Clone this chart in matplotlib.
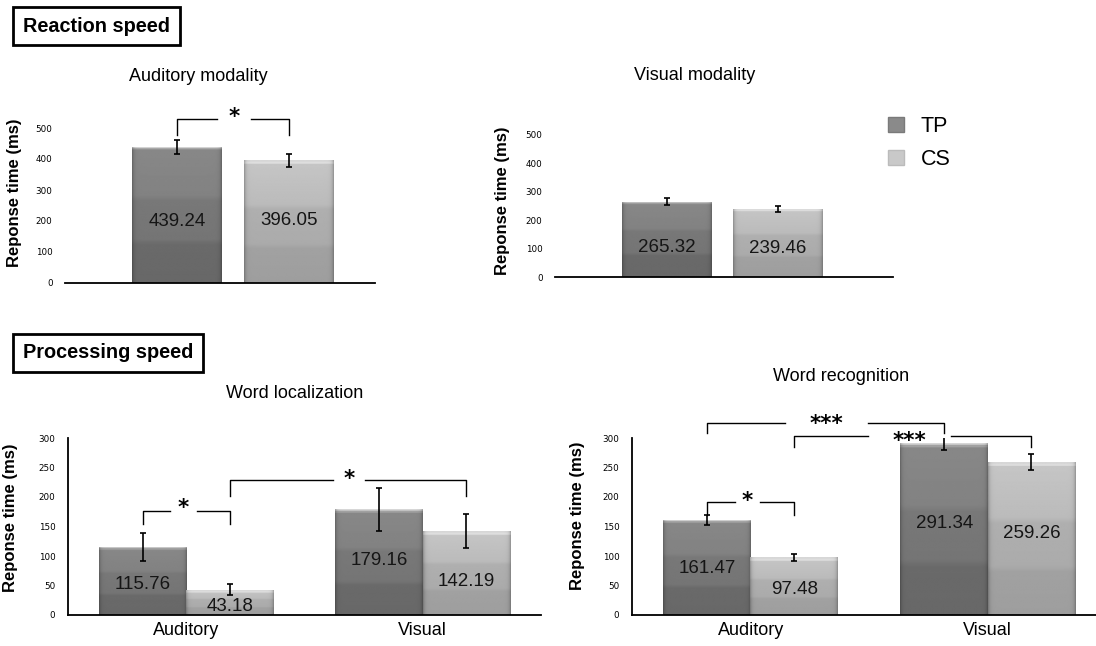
import matplotlib
matplotlib.use('Agg')
import matplotlib.pyplot as plt
from matplotlib.patches import Patch
import numpy as np

plt.rcParams['font.family'] = ['Liberation Sans', 'DejaVu Sans']

# --- data ---
groups = ['Auditory', 'Visual']

rs_auditory_tp, rs_auditory_cs = 439.24, 396.05
rs_auditory_tp_err, rs_auditory_cs_err = 22, 21
rs_visual_tp, rs_visual_cs = 265.32, 239.46
rs_visual_tp_err, rs_visual_cs_err = 13, 12

wl_tp = [115.76, 179.16]
wl_cs = [43.18, 142.19]
wl_tp_err = [23.5, 36.5]
wl_cs_err = [9, 29]

wr_tp = [161.47, 291.34]
wr_cs = [97.48, 259.26]
wr_tp_err = [8.5, 11]
wr_cs_err = [5.5, 13]

W, H = 1096, 646
fig = plt.figure(figsize=(W / 100, H / 100), dpi=100)


def px_axes(left, top, right, bottom):
    return fig.add_axes([left / W, 1 - bottom / H, (right - left) / W, (bottom - top) / H])


# gray levels (bottom -> top) for the shaded bars
TP_STOPS = ([0, 0.28, 0.32, 0.6, 0.64, 1.0], [104, 106, 117, 120, 130, 136])
CS_STOPS = ([0, 0.28, 0.32, 0.6, 0.64, 1.0], [158, 161, 171, 175, 187, 198])
TP_COLOR = '#858585'
CS_COLOR = '#bdbdbd'


def shade(ax, bars, stops, span):
    for b in bars:
        x0, w, h = b.get_x(), b.get_width(), b.get_height()
        ys = np.linspace(0, h, 200)
        v = np.interp(ys / h, stops[0], stops[1]).astype(float)
        d = (h - ys) / span
        v = np.where(d < 0.02, v + 25, v)
        v = np.where(d < 0.009, 215, v)
        cols = np.linspace(0, 1, 80)
        edge = 1 - 0.22 * np.exp(-cols / 0.018) - 0.22 * np.exp(-(1 - cols) / 0.018)
        arr = np.clip(v[:, None] * edge[None, :] / 255, 0, 1)
        im = ax.imshow(arr, cmap='gray', vmin=0, vmax=1, origin='lower', aspect='auto',
                       extent=(x0, x0 + w, 0, h), interpolation='bilinear', zorder=2)
        im.set_clip_path(b)


def style(ax, ylim, yticks, left_spine, xticks=None):
    ax.set_ylim(0, ylim)
    ax.set_yticks(yticks)
    for s in ['top', 'right']:
        ax.spines[s].set_visible(False)
    ax.spines['left'].set_visible(left_spine)
    ax.spines['bottom'].set_linewidth(1.3)
    ax.spines['left'].set_linewidth(1.3)
    ax.tick_params(axis='y', length=0, pad=9, labelsize=6.3)
    for lab in ax.get_yticklabels():
        lab.set_family('DejaVu Sans')
    if xticks is None:
        ax.set_xticks([])
    else:
        ax.set_xticks(xticks)
        ax.set_xticklabels(groups, fontsize=13)
        ax.tick_params(axis='x', length=0, pad=5)


def bracket(ax, x1, x2, top, leg1, leg2, gap, text, tx, ty):
    kw = dict(color='black', lw=1.0, clip_on=False, zorder=5)
    ax.plot([x1, x1, tx - gap], [leg1, top, top], **kw)
    ax.plot([tx + gap, x2, x2], [top, top, leg2], **kw)
    ax.annotate(text, (tx, ty), xytext=(0, -9), textcoords='offset points',
                ha='center', va='baseline', fontsize=15.5, fontweight='bold',
                family='DejaVu Sans', annotation_clip=False, zorder=6)


def values(ax, xs, vals, fracs):
    for x, v, f in zip(xs, vals, fracs):
        ax.text(x, v * f, f'{v:.2f}', ha='center', va='center', fontsize=13.5,
                color='#151515', zorder=4)


def ylab(ax, x, y):
    ax.set_ylabel('Reponse time (ms)', fontsize=12, fontweight='bold')
    ax.yaxis.set_label_coords(x, y)


# --- Reaction speed: auditory ---
ax1 = px_axes(65, 128, 375, 283)
b1 = ax1.bar([0], [rs_auditory_tp], width=0.8, color=TP_COLOR, zorder=2)
b2 = ax1.bar([1], [rs_auditory_cs], width=0.8, color=CS_COLOR, zorder=2)
shade(ax1, b1, TP_STOPS, 500)
shade(ax1, b2, CS_STOPS, 500)
ax1.errorbar([0, 1], [rs_auditory_tp, rs_auditory_cs],
             yerr=[rs_auditory_tp_err, rs_auditory_cs_err], fmt='none', ecolor='black',
             elinewidth=1.2, capsize=2.5, capthick=1.2, zorder=4)
values(ax1, [0, 1], [rs_auditory_tp, rs_auditory_cs], [0.455, 0.505])
ax1.set_xlim(-1.0, 1.77)
style(ax1, 500, [0, 100, 200, 300, 400, 500], False)
ylab(ax1, -0.139, 0.58)
bracket(ax1, 0, 1, 529, 477, 477, 0.156, '*', 0.51, 558)
ax1.text(0.429, 1.33, 'Auditory modality', transform=ax1.transAxes, ha='center',
         va='center', fontsize=13)

# --- Reaction speed: visual ---
ax2 = px_axes(555, 135, 893, 277)
b1 = ax2.bar([0], [rs_visual_tp], width=0.81, color=TP_COLOR, zorder=2)
b2 = ax2.bar([1], [rs_visual_cs], width=0.81, color=CS_COLOR, zorder=2)
shade(ax2, b1, TP_STOPS, 500)
shade(ax2, b2, CS_STOPS, 500)
ax2.errorbar([0, 1], [rs_visual_tp, rs_visual_cs], yerr=[rs_visual_tp_err, rs_visual_cs_err],
             fmt='none', ecolor='black', elinewidth=1.2, capsize=2.5, capthick=1.2, zorder=4)
values(ax2, [0, 1], [rs_visual_tp, rs_visual_cs], [0.385, 0.426])
ax2.set_xlim(-1.01, 2.04)
style(ax2, 500, [0, 100, 200, 300, 400, 500], False)
ylab(ax2, -0.133, 0.54)
ax2.text(0.414, 1.42, 'Visual modality', transform=ax2.transAxes, ha='center',
         va='center', fontsize=13)

handles = [Patch(facecolor='#8a8a8a', edgecolor='#7a7a7a'),
           Patch(facecolor='#c9c9c9', edgecolor='#bbbbbb')]
fig.legend(handles, ['TP', 'CS'], loc='upper left', bbox_to_anchor=(888 / W, 1 - 116 / H),
           frameon=False, fontsize=15.5, handlelength=0.72, handleheight=0.72,
           handletextpad=0.8, labelspacing=0.55, borderaxespad=0, borderpad=0)

# --- Processing speed: word localization ---
x = np.arange(len(groups))
off, bw = 0.184, 0.37
ax3 = px_axes(68, 438, 541, 615)
b1 = ax3.bar(x - off, wl_tp, width=bw, color=TP_COLOR, zorder=2)
b2 = ax3.bar(x + off, wl_cs, width=bw, color=CS_COLOR, zorder=2)
shade(ax3, b1, TP_STOPS, 300)
shade(ax3, b2, CS_STOPS, 300)
ax3.errorbar(x - off, wl_tp, yerr=wl_tp_err, fmt='none', ecolor='black', elinewidth=1.2,
             capsize=2.5, capthick=1.2, zorder=4)
ax3.errorbar(x + off, wl_cs, yerr=wl_cs_err, fmt='none', ecolor='black', elinewidth=1.2,
             capsize=2.5, capthick=1.2, zorder=4)
values(ax3, x - off, wl_tp, [0.44, 0.52])
values(ax3, x + off, wl_cs, [0.35, 0.394])
ax3.set_xlim(-0.5, 1.5)
style(ax3, 300, [0, 50, 100, 150, 200, 250, 300], True, xticks=x)
ylab(ax3, -0.106, 0.55)
bracket(ax3, -off, off, 176, 154, 154, 0.057, '*', -0.013, 193)
bracket(ax3, off, 1 + off, 229, 202, 202, 0.068, '*', 0.688, 242)
ax3.text(0.479, 1.254, 'Word localization', transform=ax3.transAxes, ha='center',
         va='center', fontsize=13)

# --- Processing speed: word recognition ---
ax4 = px_axes(632, 438, 1096, 615)
b1 = ax4.bar(x - off, wr_tp, width=bw, color=TP_COLOR, zorder=2)
b2 = ax4.bar(x + off, wr_cs, width=bw, color=CS_COLOR, zorder=2)
shade(ax4, b1, TP_STOPS, 300)
shade(ax4, b2, CS_STOPS, 300)
ax4.errorbar(x - off, wr_tp, yerr=wr_tp_err, fmt='none', ecolor='black', elinewidth=1.2,
             capsize=2.5, capthick=1.2, zorder=4)
ax4.errorbar(x + off, wr_cs, yerr=wr_cs_err, fmt='none', ecolor='black', elinewidth=1.2,
             capsize=2.5, capthick=1.2, zorder=4)
values(ax4, x - off, wr_tp, [0.483, 0.53])
values(ax4, x + off, wr_cs, [0.436, 0.536])
ax4.set_xlim(-0.5, 1.456)
style(ax4, 300, [0, 50, 100, 150, 200, 250, 300], True, xticks=x)
ylab(ax4, -0.101, 0.56)
bracket(ax4, -off, off, 191, 169, 169, 0.053, '*', -0.013, 205)
bracket(ax4, -off, 1 - off, 325, 308, 308, 0.175, '***', 0.318, 334)
bracket(ax4, off, 1 + off, 303, 285, 285, 0.175, '***', 0.669, 306)
ax4.text(0.45, 1.345, 'Word recognition', transform=ax4.transAxes, ha='center',
         va='center', fontsize=13)

# section headers
box = dict(boxstyle='square,pad=0.5', facecolor='white', edgecolor='black', linewidth=2)
fig.text(23 / W, 1 - 26 / H, 'Reaction speed', fontsize=14.3, fontweight='bold',
         va='center', ha='left', bbox=box)
fig.text(23 / W, 1 - 353 / H, 'Processing speed', fontsize=14.3, fontweight='bold',
         va='center', ha='left', bbox=box)

fig.savefig('out.png', dpi=100)
